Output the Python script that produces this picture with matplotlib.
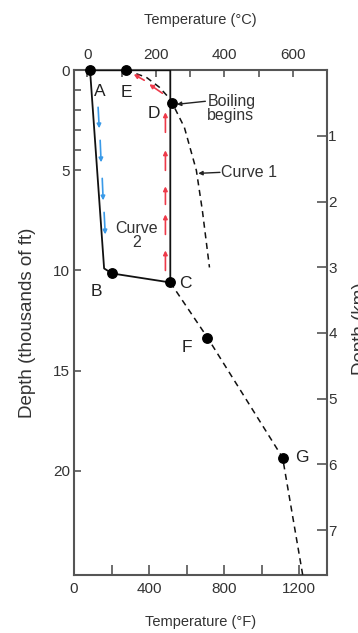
import numpy as np
from matplotlib import pyplot as plt

plt.rcParams['font.family'] = ['Liberation Sans', 'DejaVu Sans']

# curve 2: closed convection loop A -> B -> C -> surface -> A  (deg F, thousands of ft)
curve2_temp = [85, 160, 203, 513, 513, 85]
curve2_depth = [0, 9.9, 10.15, 10.6, 0, 0]

# curve 1: boiling-point curve from E through D
curve1_temp = [278, 385, 455, 508, 524, 588, 652, 684, 722]
curve1_depth = [0, 0.35, 0.85, 1.4, 1.65, 2.85, 5.0, 7.0, 9.85]

# deeper gradient below C
deep_temp = [513, 711, 1112, 1219]
deep_depth = [10.6, 13.35, 19.35, 25.2]

point_names = ['A', 'E', 'D', 'B', 'C', 'F', 'G']
point_temp = [85, 278, 524, 203, 513, 711, 1112]
point_depth = [0, 0, 1.65, 10.15, 10.6, 13.35, 19.35]
label_temp = [139, 278, 428, 118, 594, 604, 1214]
label_depth = [1.05, 1.1, 2.15, 11.05, 10.65, 13.85, 19.35]

# flow arrows (tail temp, tail depth, head temp, head depth)
blue_arrows = [(128, 1.85, 134, 2.9), (139, 3.5, 144, 4.6), (150, 5.4, 155, 6.5), (160, 7.1, 166, 8.2)]
red_arrows = [(487, 10.0, 487, 9.0), (487, 8.2, 487, 7.2), (487, 6.7, 487, 5.8),
              (487, 5.0, 487, 4.0), (487, 3.1, 487, 2.1), (471, 1.15, 401, 0.7), (374, 0.5, 318, 0.2)]

# top axis as drawn in the figure (deg C positions)
def c2f(c):
    return 70 + 1.83 * np.asarray(c)

def f2c(f):
    return (np.asarray(f) - 70) / 1.83

def kft2km(d):
    return np.asarray(d) * 0.3048

def km2kft(d):
    return np.asarray(d) / 0.3048

dark = '#333333'
spine = '#555555'

fig = plt.figure(figsize=(3.58, 6.33), dpi=100)
ax = fig.add_axes([0.207, 0.092, 0.706, 0.797])

ax.plot(curve2_temp, curve2_depth, color='#111111', lw=1.3, zorder=3)
ax.plot(curve1_temp, curve1_depth, color='#111111', lw=1.1, ls=(0, (4, 3)), zorder=3)
ax.plot(deep_temp, deep_depth, color='#111111', lw=1.1, ls=(0, (4, 3)), zorder=3)
ax.plot(point_temp, point_depth, 'o', color='black', ms=6.8, zorder=5, clip_on=False)

for name, x, y in zip(point_names, label_temp, label_depth):
    ax.text(x, y, name, fontsize=12.5, color='#222222', ha='center', va='center')

for x0, y0, x1, y1 in blue_arrows:
    ax.annotate('', xy=(x1, y1), xytext=(x0, y0),
                arrowprops=dict(arrowstyle='-|>', color='#3a9ae8', lw=1.2, mutation_scale=6, shrinkA=0, shrinkB=0))
for x0, y0, x1, y1 in red_arrows:
    ax.annotate('', xy=(x1, y1), xytext=(x0, y0),
                arrowprops=dict(arrowstyle='-|>', color='#ee3a4a', lw=1.2, mutation_scale=6, shrinkA=0, shrinkB=0))

ax.text(332, 8.25, 'Curve\n2', fontsize=11.5, color=dark, ha='center', va='center', linespacing=0.95)
ax.text(711, 1.9, 'Boiling\nbegins', fontsize=11.5, color=dark, ha='left', va='center', linespacing=0.95)
ax.annotate('', xy=(548, 1.7), xytext=(700, 1.55),
            arrowprops=dict(arrowstyle='-|>', color='#222222', lw=1, mutation_scale=6, shrinkA=0, shrinkB=0))
ax.text(786, 5.1, 'Curve 1', fontsize=11.5, color=dark, ha='left', va='center')
ax.annotate('', xy=(662, 5.15), xytext=(778, 5.1),
            arrowprops=dict(arrowstyle='-|>', color='#222222', lw=1, mutation_scale=6, shrinkA=0, shrinkB=0))

ax.set_xlim(0, 1348)
ax.set_ylim(25.2, 0)
ax.set_xticks([0, 400, 800, 1200])
ax.set_xticks([200, 600, 1000], minor=True)
ax.set_yticks([0, 5, 10, 15, 20])
ax.set_yticks([1, 2, 3, 4], minor=True)
ax.tick_params(axis='x', which='both', direction='in', length=7, width=1.2, color=spine,
               labelsize=11, labelcolor=dark, pad=5)
ax.tick_params(axis='y', which='both', direction='in', length=5, width=1.2, color=spine,
               labelsize=11, labelcolor=dark, pad=3, right=False)
ax.set_xlabel('Temperature (°F)', fontsize=10.5, color=dark, labelpad=14)
ax.set_ylabel('Depth (thousands of ft)', fontsize=13.5, color=dark, labelpad=12)
for s in ax.spines.values():
    s.set_color(spine)
    s.set_linewidth(1.5)

top = ax.secondary_xaxis('top', functions=(f2c, c2f))
top.set_xticks([0, 200, 400, 600])
top.set_xticks([100, 300, 500, 700], minor=True)
top.tick_params(which='both', direction='in', length=5, width=1.2, color=spine,
                labelsize=11, labelcolor=dark, pad=6)
top.set_xlabel('Temperature (°C)', fontsize=10.5, color=dark, labelpad=17)
top.spines['top'].set_visible(False)

right = ax.secondary_yaxis('right', functions=(kft2km, km2kft))
right.set_yticks([1, 2, 3, 4, 5, 6, 7])
right.tick_params(direction='in', length=7, width=1.2, color=spine,
                  labelsize=11, labelcolor=dark, pad=1)
right.spines['right'].set_visible(False)
# the km axis title sits at the right edge, mostly cut off as in the source figure
fig.text(0.982, 0.48, 'Depth (km)', rotation=90, fontsize=13.5, color=dark, ha='left', va='center')

fig.savefig('out.png', dpi=100)
